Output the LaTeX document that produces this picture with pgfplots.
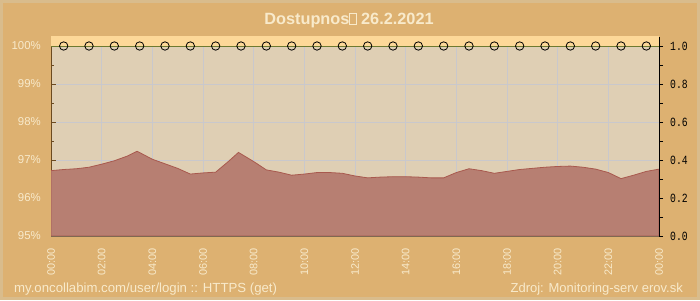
\documentclass[border=0pt]{standalone}
\usepackage{pgfplots}
\pgfplotsset{compat=1.18}
\usepackage{fontspec}
\setmainfont{Liberation Sans}
\newfontfamily\monofont[FakeStretch=0.78]{Liberation Mono}
\definecolor{bgout}{HTML}{D9BC8C}
\definecolor{bgin}{HTML}{DDB171}
\definecolor{plotbg}{HTML}{DFCFB4}
\definecolor{band}{HTML}{FDD898}
\definecolor{cream}{HTML}{F8EACB}
\definecolor{areafill}{HTML}{B77F72}
\definecolor{areaedge}{HTML}{A8594E}
\definecolor{gridc}{HTML}{C9C8CC}
\definecolor{olive}{HTML}{6E7A30}
\definecolor{leftax}{HTML}{6B4A20}
\definecolor{botax}{HTML}{607050}
\pgfplotstableread{
h v
0 96.72
0.5 96.75
1 96.77
1.5 96.81
2 96.89
2.5 96.98
3 97.10
3.4 97.23
4 97.02
4.5 96.90
5 96.78
5.5 96.63
6 96.66
6.5 96.68
7 96.96
7.4 97.20
8 96.96
8.5 96.74
9 96.68
9.5 96.60
10 96.63
10.5 96.67
11 96.67
11.5 96.65
12 96.58
12.5 96.53
13 96.55
13.5 96.56
14 96.56
14.5 96.55
15 96.53
15.5 96.53
16 96.67
16.5 96.77
17 96.72
17.5 96.65
18 96.70
18.5 96.75
19 96.78
19.5 96.81
20 96.83
20.5 96.84
21 96.81
21.5 96.76
22 96.67
22.5 96.51
23 96.60
23.5 96.70
24 96.76
}\avail
\pgfplotstableread{
h v
0.5 100
1.5 100
2.5 100
3.5 100
4.5 100
5.5 100
6.5 100
7.5 100
8.5 100
9.5 100
10.5 100
11.5 100
12.5 100
13.5 100
14.5 100
15.5 100
16.5 100
17.5 100
18.5 100
19.5 100
20.5 100
21.5 100
22.5 100
23.5 100
}\marks
\begin{document}
\begin{tikzpicture}[x=1pt,y=1pt]
\fill[bgout] (0,0) rectangle (700,300);
\fill[bgin] (3,3) rectangle (697,297);
\node[text=cream,font=\fontsize{16.3}{16}\selectfont\bfseries] at (349,280) {Dostupnos{\setlength\fboxsep{0pt}\fboxrule=0.6pt\color{cream}\fbox{\rule{0pt}{11pt}\hspace{6pt}}} 26.2.2021};
\node[text=cream,font=\fontsize{13.2}{13}\selectfont,anchor=base west,inner sep=0pt] at (14,8) {my.oncollabim.com/user/login :: HTTPS (get)};
\node[text=cream,font=\fontsize{13.0}{13}\selectfont,anchor=base east,inner sep=0pt] at (683,8) {Zdroj: Monitoring-serv erov.sk};
\begin{axis}[
  at={(51pt,64pt)}, anchor=south west,
  scale only axis, width=608pt, height=199pt,
  xmin=0, xmax=24, ymin=95, ymax=100.237,
  axis background/.style={fill=plotbg},
  xtick={0,2,...,24},
  xticklabels={00:00,02:00,04:00,06:00,08:00,10:00,12:00,14:00,16:00,18:00,20:00,22:00,00:00},
  minor xtick={0,0.5,...,24},
  ytick={95,96,97,98,99,100},
  yticklabels={95\%,96\%,97\%,98\%,99\%,100\%},
  minor ytick={95.5,96.5,97.5,98.5,99.5},
  xticklabel style={rotate=90,anchor=east,text=cream,font=\fontsize{10.9}{11}\selectfont,inner sep=0pt,xshift=-12pt},
  yticklabel style={text=cream,font=\fontsize{11.4}{11}\selectfont,inner sep=0pt,xshift=-10pt},
  /pgf/number format/assume math mode=true,
  tick align=inside,
  major tick length=5pt, minor tick length=3pt,
  grid=major, major grid style={gridc, line width=0.7pt},
  axis x line*=bottom, axis y line*=left,
  x axis line style={botax,line width=1pt,-},
  y axis line style={leftax,line width=1pt,-},
  xtick style={botax,line width=0.8pt},
  ytick style={leftax,line width=0.8pt},
  clip=true,
]
\fill[band] (axis cs:0,100) rectangle (axis cs:24,100.3);
\addplot[fill=areafill, draw=areaedge, line width=0.8pt] table[x=h,y=v]{\avail} \closedcycle;
\draw[olive,line width=1pt] (axis cs:0,100) -- (axis cs:24,100);
\addplot[only marks, mark=o, mark size=4.2pt, mark options={black,line width=0.8pt}] table[x=h,y=v]{\marks};
\end{axis}
\begin{axis}[
  at={(51pt,64pt)}, anchor=south west,
  scale only axis, width=608pt, height=199pt,
  xmin=0, xmax=24, ymin=0, ymax=1.0474,
  axis x line=none, axis y line*=right,
  ytick={0,0.2,0.4,0.6,0.8,1.0},
  minor ytick={0.1,0.3,0.5,0.7,0.9},
  yticklabel style={/pgf/number format/.cd,fixed,fixed zerofill,precision=1,/tikz/.cd,font=\monofont\fontsize{12.5}{12}\selectfont,text=black,inner sep=0pt,xshift=7pt},
  /pgf/number format/assume math mode=true,
  tick align=outside,
  major tick length=4pt, minor tick length=4pt,
  y axis line style={black,line width=1pt,-},
  ytick style={black,line width=0.8pt},
]
\addplot[draw=none] coordinates {(0,0)};
\end{axis}
\end{tikzpicture}
\end{document}
